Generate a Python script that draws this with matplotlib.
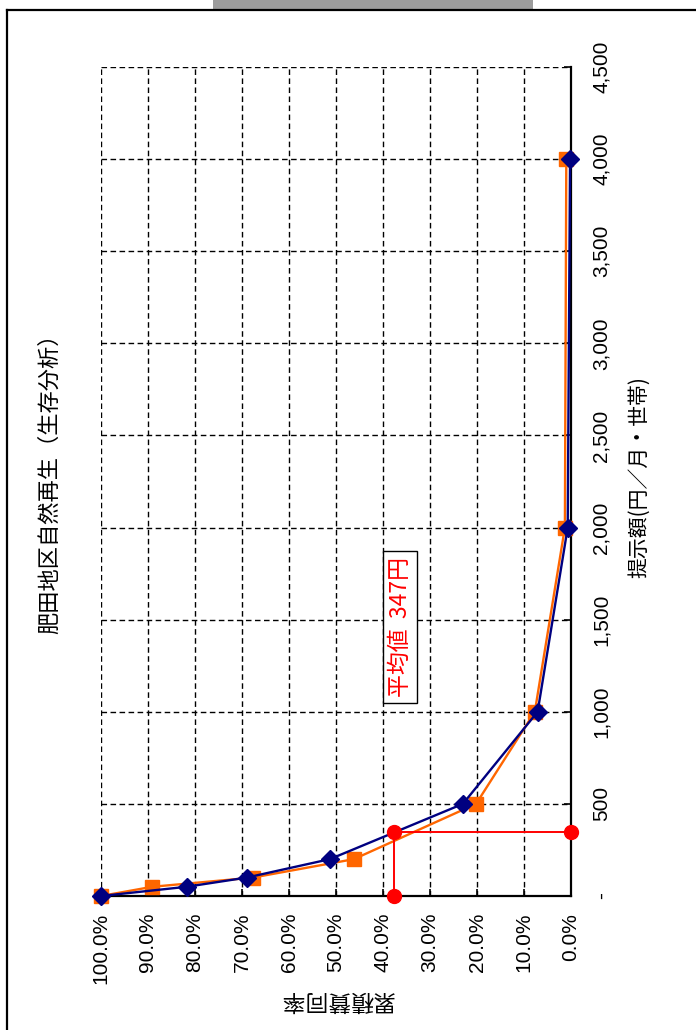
import matplotlib
matplotlib.use("Agg")
import matplotlib.pyplot as plt
from matplotlib.lines import Line2D
from matplotlib.patches import Rectangle

plt.rcParams['font.family'] = ['Liberation Sans', 'Noto Sans CJK JP', 'DejaVu Sans']

# ---- data ----
prices = [0, 50, 100, 200, 500, 1000, 2000, 4000]
observed_rate = [1.000, 0.891, 0.677, 0.462, 0.202, 0.077, 0.013, 0.010]
model_rate = [1.000, 0.818, 0.690, 0.513, 0.230, 0.071, 0.007, 0.002]
mean_price = 347
mean_rate = 0.376

price_ticks = [0, 500, 1000, 1500, 2000, 2500, 3000, 3500, 4000, 4500]
price_labels = ['-', '500', '1,000', '1,500', '2,000', '2,500', '3,000', '3,500', '4,000', '4,500']
rate_ticks = [1.0, 0.9, 0.8, 0.7, 0.6, 0.5, 0.4, 0.3, 0.2, 0.1, 0.0]
rate_labels = ['100.0%', '90.0%', '80.0%', '70.0%', '60.0%', '50.0%', '40.0%', '30.0%', '20.0%', '10.0%', '0.0%']

title = '肥田地区自然再生（生存分析）'
price_label = '提示額(円／月・世帯)'
rate_label = '累積賛同率'
mean_text = '平均値  347円'

W, H = 696, 1030
fig = plt.figure(figsize=(W / 100, H / 100), dpi=100)
fig.patch.set_facecolor('white')

def fx(px):
    return px / W

def fy(py):
    return 1 - py / H

# scanned-paper remnant at the top
fig.patches.append(Rectangle((fx(213), fy(9)), fx(533) - fx(213), 9 / H,
                             transform=fig.transFigure, facecolor='#9c9c9c', edgecolor='none'))
# outer frame
fig.add_artist(Line2D([fx(7), fx(700)], [fy(9.5), fy(9.5)], color='black', lw=1.6, transform=fig.transFigure))
fig.add_artist(Line2D([fx(7), fx(7)], [fy(9.5), fy(1035)], color='black', lw=1.6, transform=fig.transFigure))

left, right, top, bottom = 101, 571, 67, 896
ax = fig.add_axes([fx(left), fy(bottom), (right - left) / W, (bottom - top) / H])

ax.set_xlim(1.0, 0.0)
ax.set_ylim(0, 4500)

# grid
ax.set_xticks(rate_ticks)
ax.set_yticks(price_ticks)
ax.grid(True, color='black', lw=1.0, ls=(0, (4, 2.5)))
ax.set_axisbelow(True)

for s in ['top', 'left']:
    ax.spines[s].set_visible(False)
for s in ['right', 'bottom']:
    ax.spines[s].set_linewidth(1.6)
    ax.spines[s].set_color('black')

ax.yaxis.tick_right()
ax.tick_params(axis='both', direction='in', length=5, width=1.2, color='black')
ax.tick_params(axis='x', pad=12)
ax.tick_params(axis='y', pad=15)

ax.set_xticklabels(rate_labels, rotation=90, fontsize=15)
for lab in ax.get_xticklabels():
    lab.set_ha('center')
    lab.set_va('top')
ax.set_yticklabels(price_labels, rotation=90, fontsize=15)
for lab in ax.get_yticklabels():
    lab.set_ha('left')
    lab.set_va('center')

# series
ax.plot(observed_rate, prices, color='#FF6600', lw=1.7, marker='s', ms=9.5,
        mfc='#FF6600', mec='#FF6600', zorder=3, clip_on=False)
ax.plot(model_rate, prices, color='#000080', lw=1.7, marker='D', ms=9.5,
        mfc='#000080', mec='#000080', zorder=4, clip_on=False)
ax.plot([mean_rate, mean_rate, 0.0], [0, mean_price, mean_price], color='#FF0000', lw=1.4,
        marker='o', ms=10, mfc='#FF0000', mec='#FF0000', zorder=5, clip_on=False)

# texts
fig.text(fx(50), fy(478), title, rotation=90, ha='center', va='center', fontsize=16,
         family=['Noto Sans CJK JP'])
fig.text(fx(639), fy(477), price_label, rotation=90, ha='center', va='center', fontsize=15,
         family=['Noto Sans CJK JP'])
fig.text(fx(337), fy(1000), rate_label, rotation=180, ha='center', va='center', fontsize=16.5,
         family=['Noto Sans CJK JP'])
fig.text(fx(400), fy(627), mean_text, rotation=90, ha='center', va='center', fontsize=16.5,
         color='#FF0000', family=['Noto Sans CJK JP', 'Liberation Sans'],
         bbox=dict(boxstyle='square,pad=0.25', fc='white', ec='black', lw=1.0), zorder=6)

fig.savefig('out.png', dpi=100)
